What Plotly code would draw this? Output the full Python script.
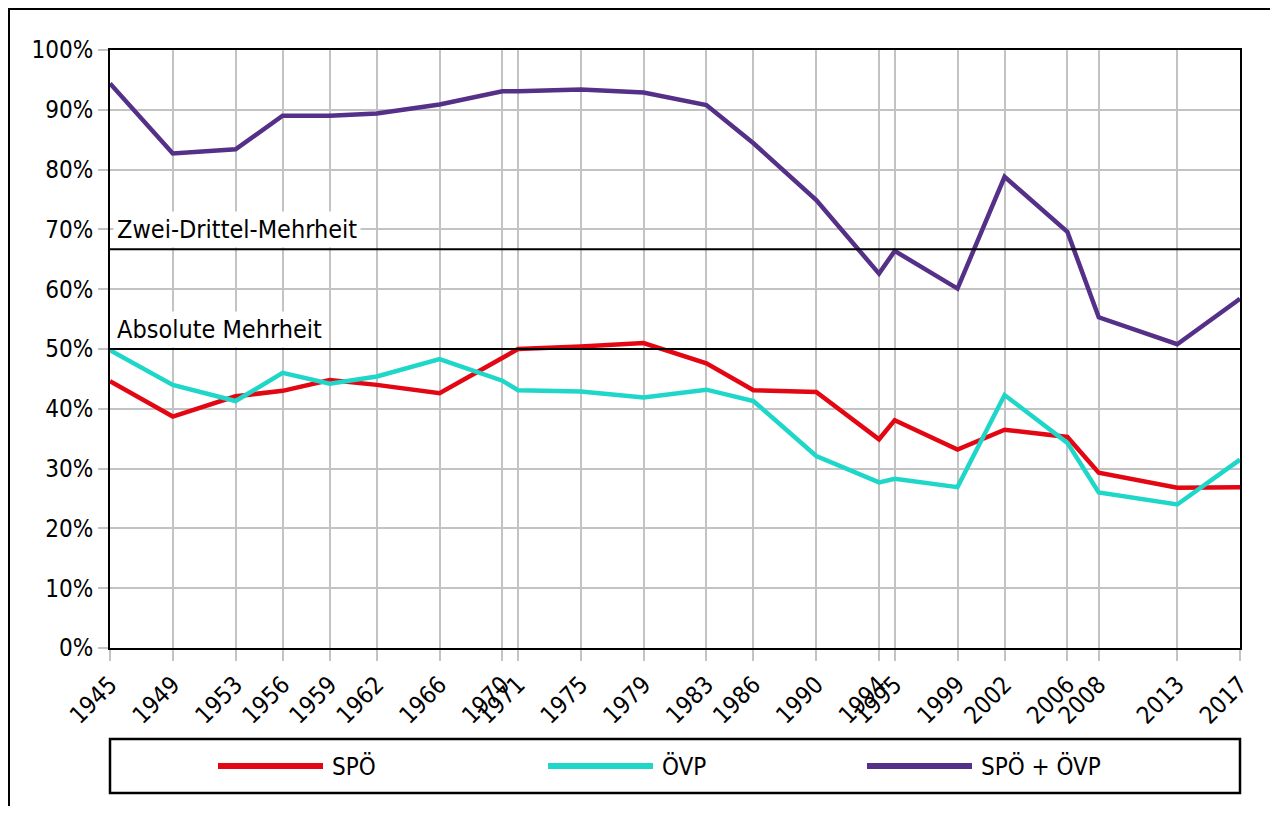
import plotly.graph_objects as go

years = [1945, 1949, 1953, 1956, 1959, 1962, 1966, 1970, 1971, 1975, 1979,
         1983, 1986, 1990, 1994, 1995, 1999, 2002, 2006, 2008, 2013, 2017]
spoe = [44.6, 38.7, 42.1, 43.0, 44.8, 44.0, 42.6, 48.4, 50.0, 50.4, 51.0,
        47.6, 43.1, 42.8, 34.9, 38.1, 33.2, 36.5, 35.3, 29.3, 26.8, 26.9]
oevp = [49.8, 44.0, 41.3, 46.0, 44.2, 45.4, 48.3, 44.7, 43.1, 42.9, 41.9,
        43.2, 41.3, 32.1, 27.7, 28.3, 26.9, 42.3, 34.3, 26.0, 24.0, 31.5]
summe = [94.4, 82.7, 83.4, 89.0, 89.0, 89.4, 90.9, 93.1, 93.1, 93.4, 92.9,
         90.8, 84.4, 74.9, 62.6, 66.4, 60.1, 78.8, 69.6, 55.3, 50.8, 58.4]
y_ticks = [0, 10, 20, 30, 40, 50, 60, 70, 80, 90, 100]
y_labels = [f"{v}%" for v in y_ticks]
thresholds = [200 / 3, 50]
threshold_labels = ["Zwei-Drittel-Mehrheit", "Absolute Mehrheit"]
series_names = ["SPÖ", "ÖVP", "SPÖ + ÖVP"]
series_colors = ["#e30613", "#1fd7c8", "#553088"]

FONT = "DejaVu Sans Condensed, DejaVu Sans, sans-serif"

# page offset (body margin of the written html page)
OFF = 8
W, H = 1278 - 2 * OFF, 814 - 2 * OFF
L, R, T, B = 110 - OFF, 1240 - OFF, 50 - OFF, 648 - OFF
pw, ph = R - L, B - T


def px(x):
    return (x - OFF - L) / pw


def py(y):
    return (B - (y - OFF)) / ph


fig = go.Figure()
for name, vals, col in zip(series_names, [spoe, oevp, summe], series_colors):
    fig.add_trace(go.Scatter(x=years, y=vals, mode="lines", name=name,
                             line=dict(color=col, width=4.5), showlegend=False))

# threshold lines
for t in thresholds:
    fig.add_shape(type="line", xref="paper", x0=0, x1=1, yref="y", y0=t, y1=t,
                  line=dict(color="black", width=2), layer="above")

# threshold labels
for t, lab in zip(thresholds, threshold_labels):
    fig.add_annotation(x=px(113), xref="paper", y=t, yref="y", text=lab,
                       showarrow=False, xanchor="left", yanchor="bottom",
                       yshift=1, bgcolor="white", borderpad=3,
                       font=dict(family=FONT, size=25, color="black"))

# outer frame
fig.add_shape(type="rect", xref="paper", yref="paper",
              x0=px(OFF + 1), x1=px(1300), y0=py(830), y1=py(OFF + 1),
              line=dict(color="black", width=2), layer="below")

# legend box
fig.add_shape(type="rect", xref="paper", yref="paper",
              x0=px(110), x1=px(1240), y0=py(793), y1=py(739),
              line=dict(color="black", width=2.5))
leg_x = [218, 548, 867]
for xs, name, col in zip(leg_x, series_names, series_colors):
    fig.add_shape(type="line", xref="paper", yref="paper",
                  x0=px(xs), x1=px(xs + 105), y0=py(766), y1=py(766),
                  line=dict(color=col, width=6))
    fig.add_annotation(x=px(xs + 112), y=py(766), xref="paper", yref="paper",
                       text=name, showarrow=False, xanchor="left",
                       yanchor="middle",
                       font=dict(family=FONT, size=24, color="black"))

fig.update_layout(
    width=W, height=H,
    margin=dict(l=L, r=W - R, t=T, b=H - B),
    paper_bgcolor="white", plot_bgcolor="white",
    font=dict(family=FONT, size=24, color="black"),
)
fig.update_xaxes(range=[1945, 2017], tickmode="array", tickvals=years,
                 ticktext=[str(y) for y in years], tickangle=-45,
                 showgrid=True, gridcolor="#c3c3c3", gridwidth=2,
                 showline=True, linecolor="black", linewidth=2, mirror=True,
                 ticks="outside", ticklen=11, tickcolor="#c3c3c3", tickwidth=2,
                 zeroline=False, tickfont=dict(family=FONT, size=24))
fig.update_yaxes(range=[0, 100], tickmode="array", tickvals=y_ticks,
                 ticktext=y_labels,
                 showgrid=True, gridcolor="#c3c3c3", gridwidth=2,
                 showline=True, linecolor="black", linewidth=2, mirror=True,
                 ticks="outside", ticklen=10, tickcolor="#c3c3c3", tickwidth=2,
                 zeroline=False, tickfont=dict(family=FONT, size=24))

fig.write_html("out.html")
